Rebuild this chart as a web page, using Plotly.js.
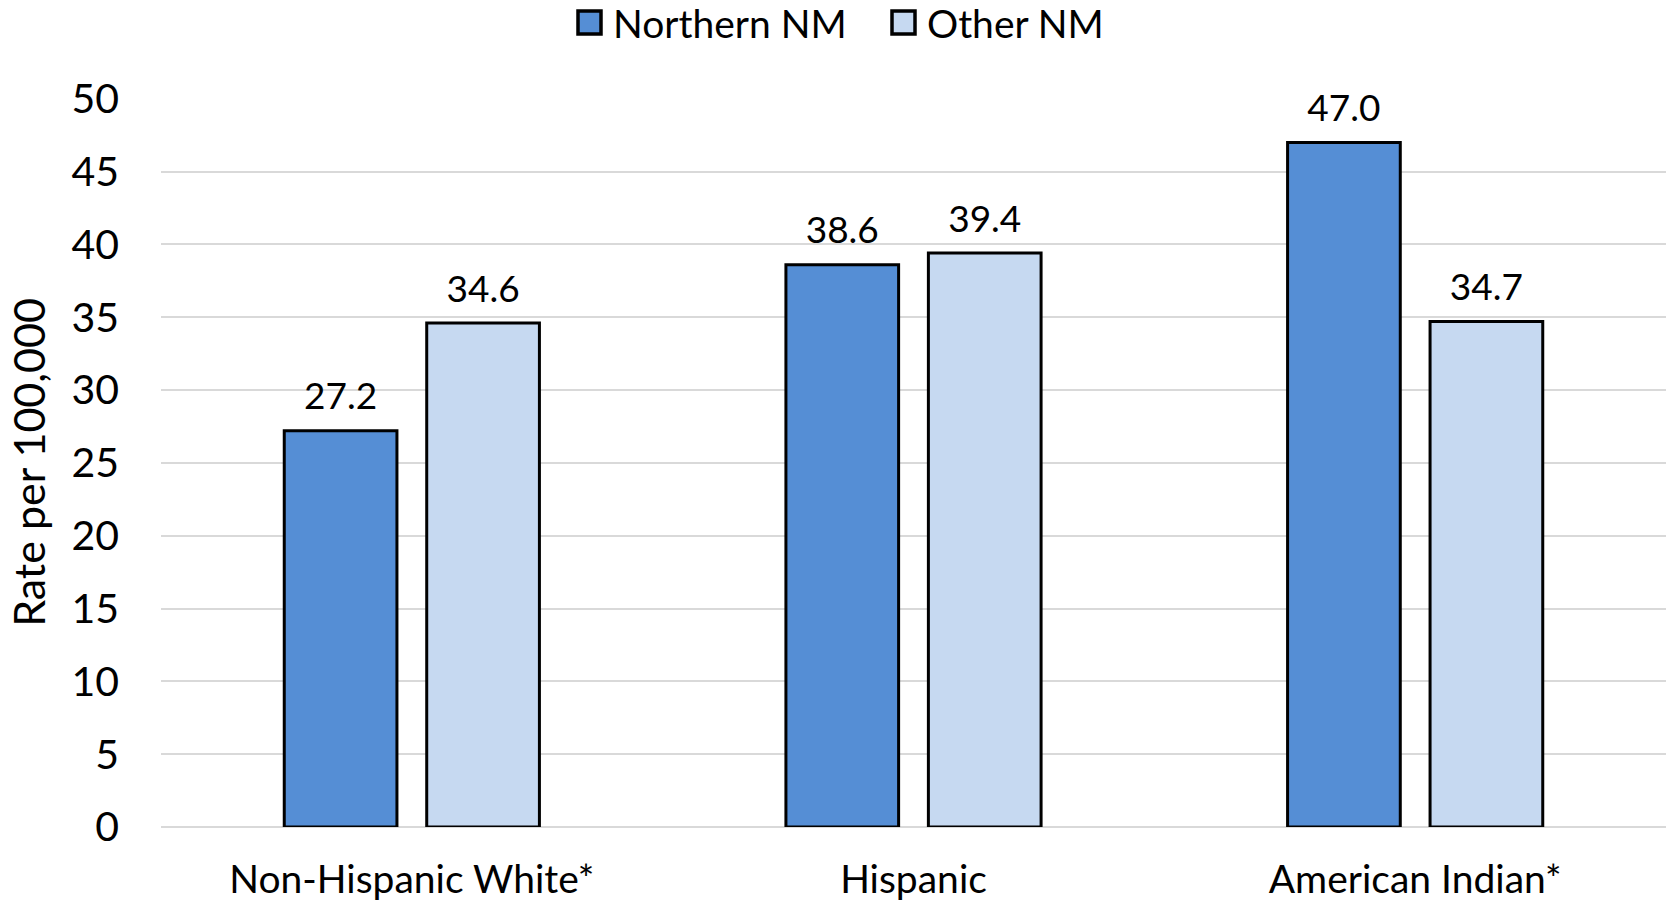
<!DOCTYPE html>
<html>
<head>
<meta charset="utf-8">
<script src="https://cdn.plot.ly/plotly-3.0.1.min.js"></script>
<style>html,body{margin:0;padding:0;background:#fff;}#chart{width:1669px;height:904px;}</style>
</head>
<body>
<div id="chart"></div>
<script>
const categories = ["Non-Hispanic White*", "Hispanic", "American Indian*"];
const northernNM = [27.2, 38.6, 47.0];
const otherNM = [34.6, 39.4, 34.7];
const seriesNames = ["Northern NM", "Other NM"];
const seriesColors = ["#558ED5", "#C6D9F1"];
const yTicks = [0, 5, 10, 15, 20, 25, 30, 35, 40, 45, 50];

const FONT = "Lato, 'Open Sans', sans-serif";
const W = 1669, H = 904;
const M = {l: 161, r: 3, t: 98, b: 77};

function barTrace(i, vals) {
  return {
    type: "bar", name: seriesNames[i], x: categories, y: vals,
    offsetgroup: String(i), alignmentgroup: "a",
    marker: {color: seriesColors[i], line: {color: "#000", width: 3}},
    hoverinfo: "none", showlegend: false
  };
}
function labelTrace(i, vals) {
  return {
    type: "scatter", mode: "markers+text", name: seriesNames[i] + " labels",
    x: categories, y: vals, offsetgroup: String(i), alignmentgroup: "a",
    text: vals.map(v => v.toFixed(1)), textposition: "top center",
    textfont: {family: FONT, size: 37, color: "#000"},
    marker: {size: 18, color: "rgba(0,0,0,0)", line: {width: 0}},
    cliponaxis: false, hoverinfo: "none", showlegend: false
  };
}
const data = [
  barTrace(0, northernNM), barTrace(1, otherNM),
  labelTrace(0, northernNM), labelTrace(1, otherNM)
];

// custom legend (pixel positions -> paper coordinates)
const pw = W - M.l - M.r, ph = H - M.t - M.b;
const px = x => (x - M.l) / pw;
const py = y => (H - M.b - y) / ph;
const legendItems = [{x0: 576, tx: 611}, {x0: 890, tx: 925}];
const shapes = [], annotations = [];
legendItems.forEach((it, i) => {
  shapes.push({type: "rect", xref: "paper", yref: "paper",
    x0: px(it.x0 + 2), x1: px(it.x0 + 25), y0: py(34), y1: py(11),
    fillcolor: seriesColors[i], line: {color: "#000", width: 3.5}});
  annotations.push({xref: "paper", yref: "paper", x: px(it.tx), y: py(23),
    xanchor: "left", yanchor: "middle", showarrow: false, text: seriesNames[i],
    font: {family: FONT, size: 39, color: "#000"}});
});

const layout = {
  width: W, height: H,
  margin: Object.assign({autoexpand: false}, M),
  paper_bgcolor: "#fff", plot_bgcolor: "#fff",
  barmode: "group", bargap: 0.432, bargroupgap: 0.209,
  scattermode: "group", scattergap: 0.432,
  font: {family: FONT, color: "#000"},
  showlegend: false,
  shapes: shapes, annotations: annotations,
  xaxis: {tickfont: {family: FONT, size: 39, color: "#000"}, showgrid: false, showline: false,
          ticks: "", ticklabelstandoff: 26, fixedrange: true},
  yaxis: {range: [0, 50.05], tickvals: yTicks, tickfont: {family: FONT, size: 41, color: "#000"},
          gridcolor: "#D9D9D9", gridwidth: 2, zeroline: true, zerolinecolor: "#D9D9D9", zerolinewidth: 2,
          showline: false, ticks: "", ticklabelstandoff: 41, fixedrange: true,
          title: {text: "Rate per 100,000", font: {family: FONT, size: 43, color: "#000"}, standoff: 12}}
};
Plotly.newPlot("chart", data, layout, {displayModeBar: false, staticPlot: true});
</script>
</body>
</html>
